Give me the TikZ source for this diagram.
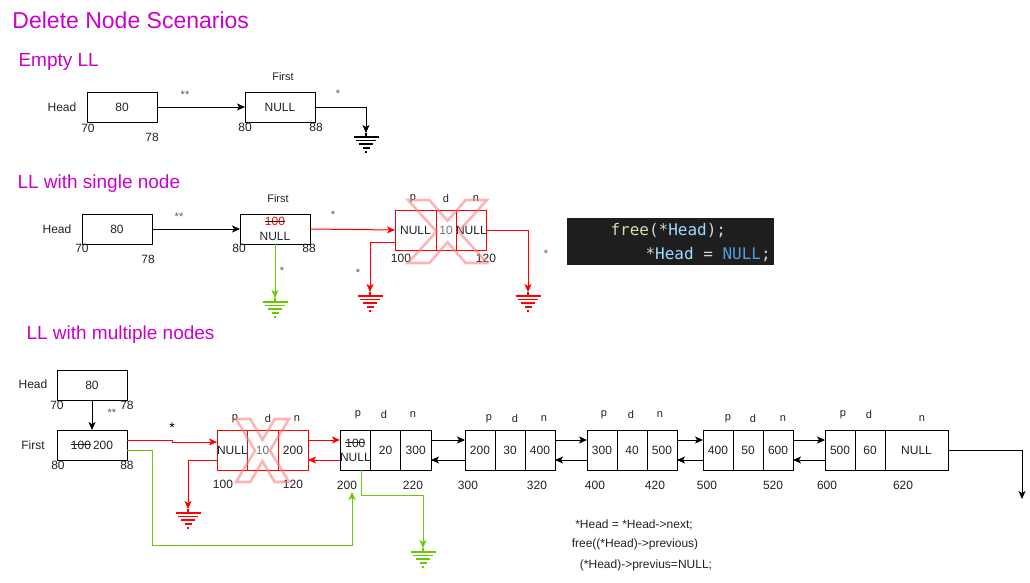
\documentclass[tikz,border=0pt]{standalone}
\usepackage{fontspec}
\setmainfont{Liberation Sans}
\newfontfamily\codefont{DejaVu Sans Mono}
\usetikzlibrary{arrows.meta}
\definecolor{mag}{HTML}{CC00CC}
\definecolor{grn}{HTML}{66CC00}
\definecolor{xpink}{HTML}{FF7777}
\definecolor{codebg}{HTML}{1E1E1E}
\definecolor{cfun}{HTML}{DCDCAA}
\definecolor{cvar}{HTML}{9CDCFE}
\definecolor{ckw}{HTML}{569CD6}
\definecolor{cpun}{HTML}{D4D4D4}
\definecolor{txt}{HTML}{222222}
\newcommand\fs[1]{\fontsize{#1}{#1}\selectfont}
\newsavebox\strkbox
\newcommand\strk[1]{\sbox\strkbox{#1}\rlap{\usebox\strkbox}\rule[0.33em]{\wd\strkbox}{0.8pt}}
\newcommand\bigx[4]{\draw[xst] (#1,#2) -- ({#1+0.27*(#3-#1)},#2) -- ({0.5*(#1+#3)},{#2+0.33*(#4-#2)}) -- ({#1+0.73*(#3-#1)},#2) -- (#3,#2) -- ({#1+0.64*(#3-#1)},{0.5*(#2+#4)}) -- (#3,#4) -- ({#1+0.73*(#3-#1)},#4) -- ({0.5*(#1+#3)},{#2+0.67*(#4-#2)}) -- ({#1+0.27*(#3-#1)},#4) -- (#1,#4) -- ({#1+0.36*(#3-#1)},{0.5*(#2+#4)}) -- cycle;}
\begin{document}
\begin{tikzpicture}[x=1pt,y=-1pt,line width=1pt,
  box/.style={draw, minimum width=70pt, minimum height=30pt, inner sep=0pt, outer sep=0pt, anchor=north west, font=\fs{12}, text=txt},
  cell/.style={draw, minimum width=30pt, minimum height=40pt, inner sep=0pt, outer sep=0pt, anchor=north west, font=\fs{12}, text=txt},
  lbl/.style={inner sep=0pt, font=\fs{12}, text=txt},
  sm/.style={inner sep=0pt, font=\fs{11}, text=txt},
  star/.style={inner sep=0pt, font=\fs{11}, text=black!65},
  ttl/.style={anchor=base west, inner sep=0pt, text=mag, font=\fs{19}},
  arr/.style={-{Stealth[length=8pt,width=7pt,inset=2pt]}},
  xst/.style={draw=xpink, line width=2.6pt, opacity=0.55, line join=miter},
  gnd/.pic={\draw[line width=1.1pt] (0,0) -- (0,4) (-12.5,4) -- (12.5,4)
            (-10,7.5) -- (10,7.5) (-7,11) -- (7,11) (-3.5,15) -- (3.5,15) (-1,19) -- (1,19);}
]
\useasboundingbox (0,0) rectangle (1030,582);

% titles
\node[ttl, font=\fs{23}] (t0) at (12,28) {Delete Node Scenarios};
\node[ttl] (t1) at (18,66) {Empty LL};
\node[ttl] (t2) at (17,188) {LL with single node};
\node[ttl] (t3) at (26,339) {LL with multiple nodes};

% ---------- Empty LL ----------
\node[lbl] (h1l) at (62,107) {Head};
\node[box] (h1) at (87,92) {80};
\node[lbl] (h1a) at (88,128) {70};
\node[lbl] (h1b) at (152,137) {78};
\node[star] (s1) at (185,95) {**};
\node[box] (f1) at (245,92) {NULL};
\node[sm] (f1l) at (283,77) {First};
\node[lbl] (f1a) at (245,127) {80};
\node[lbl] (f1b) at (316,127) {88};
\node[star] (s2) at (338,94) {*};
\coordinate (g1) at (366,133);
\pic at (g1) {gnd};
\draw[arr] (h1) -- (f1);
\draw[arr] (f1.east) -| (g1);

% ---------- LL with single node ----------
\node[lbl] (h2l) at (57,229) {Head};
\node[box] (h2) at (82,214) {80};
\node[lbl] (h2a) at (82,248) {70};
\node[lbl] (h2b) at (148,259) {78};
\node[star] (s3) at (179,217) {**};
\node[box, align=center, font=\fontsize{12}{15}\selectfont] (f2) at (240,214) {\strk{\textcolor{red}{100}}\\NULL};
\node[sm] (f2l) at (278,199) {First};
\node[lbl] (f2a) at (239,248) {80};
\node[lbl] (f2b) at (309,248) {88};
\node[star] (s4) at (333,215) {*};
\node[cell, draw=red, minimum width=41pt] (p1) at (395,210) {NULL};
\node[cell, draw=red, minimum width=20pt, text=black!55] (d1) at (436,210) {10};
\node[cell, draw=red, minimum width=29pt] (n1) at (456,210) {NULL};
\node[sm] (p1l) at (413,199) {p};
\node[sm] (d1l) at (446,199) {d};
\node[sm] (n1l) at (476,199) {n};
\node[lbl] (p1a) at (401,258) {100};
\node[lbl] (n1a) at (486,258) {120};
\bigx{408}{200}{487}{263}
\coordinate (g2) at (275,298);
\coordinate (g3) at (370,292);
\coordinate (g4) at (528,292);
\pic[color=grn] at (g2) {gnd};
\pic[color=red] at (g3) {gnd};
\pic[color=red] at (g4) {gnd};
\draw[arr] (h2) -- (f2);
\draw[arr, red] (f2.east) -- (p1.west);
\draw[arr, grn] (f2.south) -- (g2);
\node[star] (s5) at (282,271) {*};
\draw[arr, red] ([yshift=-12pt]p1.west) -| (g3);
\node[star] (s6) at (358,273) {*};
\draw[arr, red] (n1.east) -| (g4);
\node[star] (s7) at (546,254) {*};

% code box
\node[fill=codebg, minimum width=207pt, minimum height=47pt, inner sep=0pt, anchor=north west] (code) at (566,217) {};
\node[anchor=base west, inner sep=0pt, font=\codefont\fs{16}] (c1) at (610,235)
  {\textcolor{cfun}{free}\textcolor{cpun}{(*}\textcolor{cvar}{Head}\textcolor{cpun}{);}};
\node[anchor=base west, inner sep=0pt, font=\codefont\fs{16}] (c2) at (645,259)
  {\textcolor{cpun}{*}\textcolor{cvar}{Head}\textcolor{cpun}{\ =\ }\textcolor{ckw}{NULL}\textcolor{cpun}{;}};

% ---------- LL with multiple nodes ----------
\node[lbl] (h3l) at (33,384) {Head};
\node[box] (h3) at (57,370) {80};
\node[lbl] (h3a) at (57,405) {70};
\node[lbl] (h3b) at (127,405) {78};
\node[star] (s8) at (112,413) {**};
\node[lbl] (f3l) at (33,445) {First};
\node[box] (f3) at (57,430) {\strk{100}\,200};
\node[lbl] (f3a) at (58,465) {80};
\node[lbl] (f3b) at (127,465) {88};
\node[inner sep=0pt, font=\fs{14}] (s9) at (172,428) {*};
\draw[arr] (h3) -- (f3);

% deleted node
\node[cell, draw=red] (mp1) at (217,430) {NULL};
\node[cell, draw=red, text=black!55, minimum width=31pt] (md1) at (247,430) {10};
\node[cell, draw=red] (mn1) at (278,430) {200};
\node[sm] (mp1l) at (235,419) {p};
\node[sm] (md1l) at (268,419) {d};
\node[sm] (mn1l) at (297,419) {n};
\node[lbl] (mp1a) at (223,484) {100};
\node[lbl] (mn1a) at (293,484) {120};
\bigx{236}{419}{289}{482}

% node 200
\node[cell, minimum width=30.5pt, align=center, font=\fontsize{12}{14}\selectfont] (mp2) at (340,430) {\strk{100}\\NULL};
\node[cell] (md2) at (370.5,430) {20};
\node[cell, minimum width=30.5pt] (mn2) at (400.5,430) {300};
\node[sm] (mp2l) at (358,415) {p};
\node[sm] (md2l) at (384,415) {d};
\node[sm] (mn2l) at (413,415) {n};
\node[lbl] (mp2a) at (347,485) {200};
\node[lbl] (mn2a) at (413,485) {220};

% node 300
\node[cell] (mp3) at (465,430) {200};
\node[cell] (md3) at (495,430) {30};
\node[cell] (mn3) at (525,430) {400};
\node[sm] (mp3l) at (489,419) {p};
\node[sm] (md3l) at (515,419) {d};
\node[sm] (mn3l) at (544,419) {n};
\node[lbl] (mp3a) at (468,485) {300};
\node[lbl] (mn3a) at (537,485) {320};

% node 400
\node[cell] (mp4) at (587,430) {300};
\node[cell] (md4) at (617,430) {40};
\node[cell] (mn4) at (647,430) {500};
\node[sm] (mp4l) at (604,415) {p};
\node[sm] (md4l) at (631,415) {d};
\node[sm] (mn4l) at (660,415) {n};
\node[lbl] (mp4a) at (595,485) {400};
\node[lbl] (mn4a) at (655,485) {420};

% node 500
\node[cell] (mp5) at (703,430) {400};
\node[cell] (md5) at (733,430) {50};
\node[cell] (mn5) at (763,430) {600};
\node[sm] (mp5l) at (728,419) {p};
\node[sm] (md5l) at (753,419) {d};
\node[sm] (mn5l) at (783,419) {n};
\node[lbl] (mp5a) at (707,485) {500};
\node[lbl] (mn5a) at (773,485) {520};

% node 600
\node[cell] (mp6) at (825,430) {500};
\node[cell] (md6) at (855,430) {60};
\node[cell, minimum width=63pt] (mn6) at (885,430) {NULL};
\node[sm] (mp6l) at (843,415) {p};
\node[sm] (md6l) at (869,415) {d};
\node[sm] (mn6l) at (922,419) {n};
\node[lbl] (mp6a) at (827,485) {600};
\node[lbl] (mn6a) at (903,485) {620};

% grounds and coordinates
\coordinate (g5) at (188,509);
\coordinate (g6) at (423,548);
\coordinate (ga) at (352,492);
\coordinate (gend) at (1022,499);
\pic[color=red] at (g5) {gnd};
\pic[color=grn] at (g6) {gnd};

% connectors
\draw[arr, red] ([yshift=5pt]f3.east) -- ++(45,0) |- ([yshift=8pt]mp1.west);
\draw[arr, grn] ([yshift=-5pt]f3.east) -- ++(25,0) -- ++(0,95) -| (ga);
\draw[arr, red] ([yshift=-10pt]mp1.west) -| (g5);
\draw[arr, red] ([yshift=10pt]mn1.east) -- ([yshift=10pt]mp2.west);
\draw[arr, red] ([yshift=-10pt]mp2.west) -- ([yshift=-10pt]mn1.east);
\draw[arr, grn] ([xshift=6.5pt]mp2.south) -- ++(0,25) -| (g6);
\draw[arr] ([yshift=10pt]mn2.east) -- ([yshift=10pt]mp3.west);
\draw[arr] ([yshift=-10pt]mp3.west) -- ([yshift=-10pt]mn2.east);
\draw[arr] ([yshift=10pt]mn3.east) -- ([yshift=10pt]mp4.west);
\draw[arr] ([yshift=-10pt]mp4.west) -- ([yshift=-10pt]mn3.east);
\draw[arr] ([yshift=10pt]mn4.east) -- ([yshift=10pt]mp5.west);
\draw[arr] ([yshift=-10pt]mp5.west) -- ([yshift=-10pt]mn4.east);
\draw[arr] ([yshift=10pt]mn5.east) -- ([yshift=10pt]mp6.west);
\draw[arr] ([yshift=-10pt]mp6.west) -- ([yshift=-10pt]mn5.east);
\draw[arr] (mn6.east) -| (gend);

% code text
\node[lbl] (k1) at (634,525) {*Head = *Head->next;};
\node[lbl] (k2) at (635,544) {free((*Head)->previous)};
\node[lbl] (k3) at (646,565) {(*Head)->previus=NULL;};
\end{tikzpicture}
\end{document}
